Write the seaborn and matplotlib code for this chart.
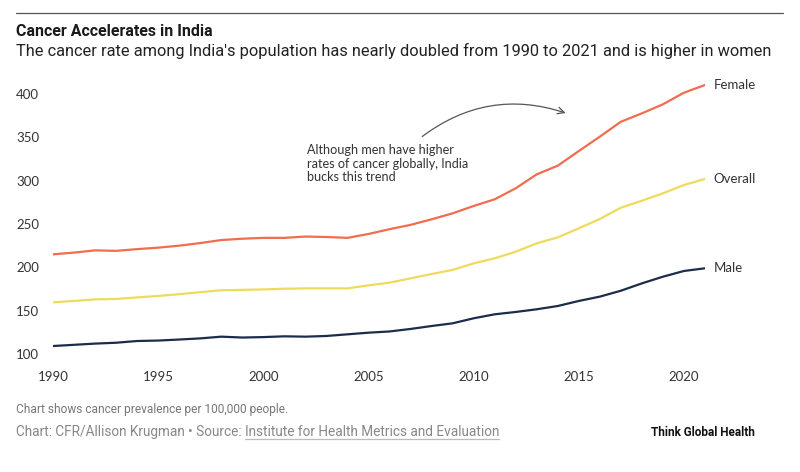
import matplotlib
matplotlib.use("Agg")
import matplotlib.pyplot as plt
import seaborn as sns
import pandas as pd

years = list(range(1990, 2022))
female = [215, 217, 219.6, 219, 221, 222.7, 225, 228, 231.5, 233, 234, 234, 235.5, 235, 234,
          238.5, 244, 249, 255.4, 262.3, 270.8, 278.5, 291.2, 307.3, 317.3, 334.2, 350.8,
          368, 377.7, 388.1, 401.5, 410.4]
overall = [159.6, 161.3, 163, 163.5, 165.3, 167, 169, 171.3, 173.5, 174, 174.5, 175.3, 175.7,
           175.7, 175.7, 179.2, 182.3, 187.3, 192.3, 197, 204.6, 210.4, 218, 227.7, 234.6, 245,
           255.8, 268.8, 276.9, 285.4, 295, 302]
male = [109.2, 110.6, 112, 113, 115, 115.5, 116.7, 118, 120, 119, 119.5, 120.4, 120, 120.8,
        122.7, 124.6, 126, 128.9, 132.3, 135.4, 141.2, 145.8, 148.5, 151.6, 155.4, 161.2,
        166.2, 173, 181.5, 189.2, 195.8, 198.9]
series_names = ["Female", "Overall", "Male"]
series_colors = ["#F26C4F", "#EEDB5C", "#1B2D4A"]
y_ticks = [100, 150, 200, 250, 300, 350, 400]
x_ticks = [1990, 1995, 2000, 2005, 2010, 2015, 2020]

title = "Cancer Accelerates in India"
subtitle = ("The cancer rate among India's population has nearly doubled from 1990 to 2021 "
            "and is higher in women")
note = "Although men have higher\nrates of cancer globally, India\nbucks this trend"
foot1 = "Chart shows cancer prevalence per 100,000 people."
foot2a = "Chart: CFR/Allison Krugman \u2022 Source: "
foot2b = "Institute for Health Metrics and Evaluation"
brand = "Think Global Health"

df = pd.DataFrame({
    "year": years * 3,
    "value": female + overall + male,
    "series": ["Female"] * len(years) + ["Overall"] * len(years) + ["Male"] * len(years),
})

sns.set_theme(style="white")
plt.rcParams["font.family"] = ["Lato", "DejaVu Sans"]
cond = ["Roboto", "DejaVu Sans"]

W, H = 800, 472
fig = plt.figure(figsize=(8, 4.72), dpi=100)
ylo, yhi = 90, 415
def ypix(v):
    return 94 + (400 - v) * (260 / 300)
ax = fig.add_axes([53 / W, 1 - ypix(ylo) / H, (705 - 53) / W, (ypix(ylo) - ypix(yhi)) / H])

sns.lineplot(data=df, x="year", y="value", hue="series", hue_order=series_names,
             palette=dict(zip(series_names, series_colors)), linewidth=1.6, ax=ax,
             legend=False)
ax.set_xlim(1990, 2021)
ax.set_ylim(ylo, yhi)
ax.set_xticks(x_ticks)
ax.set_yticks(y_ticks)
ax.set_xlabel("")
ax.set_ylabel("")
for s in ax.spines.values():
    s.set_visible(False)
ax.tick_params(axis="both", length=0, labelsize=9.5, labelcolor="#333333")
ax.tick_params(axis="y", pad=10)
ax.tick_params(axis="x", pad=6)
ax.grid(False)

ends = {"Female": female[-1], "Overall": overall[-1], "Male": male[-1]}
for n in series_names:
    ax.annotate(n, xy=(2021, ends[n]), xytext=(6, 0), textcoords="offset points",
                va="center", ha="left", fontsize=9.5, color="#333333", clip_on=False)

ax.text(2002.1, 342, note, fontsize=9.1, color="#333333", va="top", ha="left",
        linespacing=1.15)
ax.annotate("", xy=(2014.5, 377), xytext=(2007.45, 349),
            arrowprops=dict(arrowstyle="->", color="#555555", lw=0.9,
                            connectionstyle="arc3,rad=-0.27"))

r = fig.canvas.get_renderer()
def fit(t, target):
    fig.canvas.draw()
    w = t.get_window_extent(r).width
    t.set_fontsize(t.get_fontsize() * target / w)

L = 16
# header
fig.add_artist(plt.Line2D([L / W, 783 / W], [1 - 13 / H, 1 - 13 / H], color="#555555", lw=0.9))
tt = fig.text(L / W, 1 - 36 / H, title, fontsize=13, fontweight="bold", color="#1a1a1a",
              family=cond, va="baseline", ha="left")
fit(tt, 213 - L)
ts = fig.text(L / W, 1 - 56 / H, subtitle, fontsize=12, color="#222222",
              family=cond, va="baseline", ha="left")
fit(ts, 770 - L)

# footer
f1 = fig.text(L / W, 1 - 413 / H, foot1, fontsize=8, color="#777777",
              family=cond, va="baseline", ha="left")
fit(f1, 288 - L)
t2 = fig.text(L / W, 1 - 436 / H, foot2a + foot2b, fontsize=9, color="#888888",
              family=cond, va="baseline", ha="left")
fit(t2, 503 - L)
fig.canvas.draw()
full_w = t2.get_window_extent(r).width
t2.set_text(foot2a)
fig.canvas.draw()
bb = t2.get_window_extent(r)
t3 = fig.text(L / W + full_w / W, 1 - 436 / H, foot2b, fontsize=t2.get_fontsize(),
              color="#888888", family=cond, va="baseline", ha="right")
fig.canvas.draw()
bb3 = t3.get_window_extent(r)
fig.add_artist(plt.Line2D([bb3.x0 / W, bb3.x1 / W], [1 - 439 / H, 1 - 439 / H],
                          color="#bbbbbb", lw=0.9))
tb = fig.text(755 / W, 1 - 436 / H, brand, fontsize=8.5, fontweight="bold", color="#111111",
              family=cond, va="baseline", ha="right")

fig.savefig("out.png", dpi=100, facecolor="white")
